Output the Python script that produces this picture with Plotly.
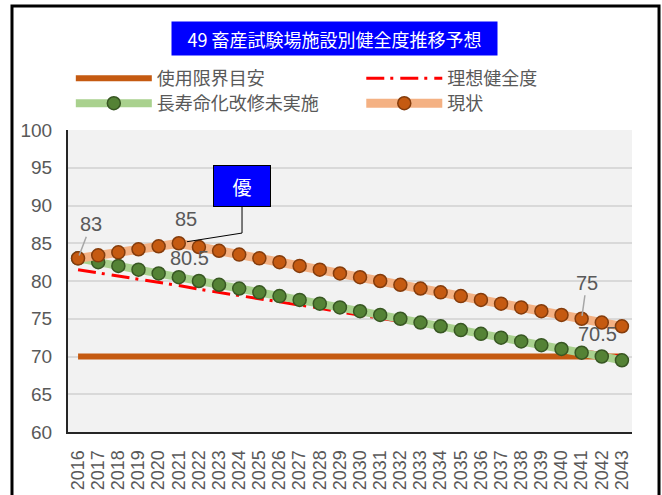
import plotly.graph_objects as go

# Fiscal years on the horizontal axis
years = [2016, 2017, 2018, 2019, 2020, 2021, 2022, 2023, 2024, 2025,
         2026, 2027, 2028, 2029, 2030, 2031, 2032, 2033, 2034, 2035,
         2036, 2037, 2038, 2039, 2040, 2041, 2042, 2043]

# Health score series
limit_line = [70, 70, 70, 70, 70, 70, 70, 70, 70, 70,
              70, 70, 70, 70, 70, 70, 70, 70, 70, 70,
              70, 70, 70, 70, 70, 70, 70, 70]
ideal = [81.5, 81.1, 80.6, 80.2, 79.8, 79.4, 78.9, 78.5, 78.1, 77.7,
         77.2, 76.8, 76.4, 75.9, 75.5, 75.1, 74.7, 74.2, 73.8, 73.4,
         73.0, 72.5, 72.1, 71.7, 71.2, 70.8, 70.4, 70.0]
no_renewal = [83, 82.5, 82, 81.5, 81, 80.5, 80, 79.5, 79, 78.5,
              78, 77.5, 77, 76.5, 76, 75.5, 75, 74.5, 74, 73.5,
              73, 72.5, 72, 71.5, 71, 70.5, 70, 69.5]
current = [83, 83.4, 83.8, 84.2, 84.6, 85, 84.5, 84, 83.5, 83,
           82.5, 82, 81.5, 81, 80.5, 80, 79.5, 79, 78.5, 78,
           77.5, 77, 76.5, 76, 75.5, 75, 74.5, 74]

series_names = ["使用限界目安", "理想健全度", "長寿命化改修未実施", "現状"]
title_text = "49 畜産試験場施設別健全度推移予想"
badge_text = "優"
y_ticks = [60, 65, 70, 75, 80, 85, 90, 95, 100]

NUM_FONT = "Liberation Sans Narrow, Arial Narrow, Liberation Sans, Arial"
JP_FONT = "Noto Sans CJK JP, Noto Sans, sans-serif"
GREY_TXT = "#595959"

fig = go.Figure()

# One legend box per entry so the 2x2 grid can be placed exactly
fig.add_trace(go.Scatter(
    x=years, y=limit_line, mode="lines", name=series_names[0], legend="legend",
    line=dict(color="#C55A11", width=6)))

fig.add_trace(go.Scatter(
    x=years, y=ideal, mode="lines", name=series_names[1], legend="legend2",
    line=dict(color="#FF0000", width=3, dash="18px,6px,3px,7px")))

fig.add_trace(go.Scatter(
    x=years, y=no_renewal, mode="lines+markers", name=series_names[2], legend="legend3",
    line=dict(color="#A9D18E", width=8),
    marker=dict(size=13, color="#548235", line=dict(color="#385723", width=1.5))))

fig.add_trace(go.Scatter(
    x=years, y=current, mode="lines+markers", name=series_names[3], legend="legend4",
    line=dict(color="#F4B183", width=9),
    marker=dict(size=13, color="#C55A11", line=dict(color="#843C0C", width=1.5))))


def value_label(x, y, text, dx, dy, leader=False):
    """Data label placed at a pixel offset from its point."""
    if leader:
        return dict(x=x, y=y, xref="x", yref="y", text=text, showarrow=True,
                    arrowhead=0, arrowwidth=1.5, arrowcolor="#A6A6A6",
                    ax=dx, ay=dy, standoff=3,
                    font=dict(family=NUM_FONT, size=20, color=GREY_TXT))
    return dict(x=x, y=y, xref="x", yref="y", text=text, showarrow=False,
                xshift=dx, yshift=-dy,
                font=dict(family=NUM_FONT, size=20, color=GREY_TXT))


i16 = years.index(2016)
i21 = years.index(2021)
i41 = years.index(2041)

annotations = [
    # Title box
    dict(x=0.4725, y=1.303, xref="paper", yref="paper", xanchor="center",
         yanchor="middle", text=title_text,
         showarrow=False, bgcolor="#0000FF", width=321, height=29, borderpad=2,
         font=dict(family=JP_FONT, size=18, color="#FFFFFF")),
    # Badge box
    dict(x=2024.14, y=92.6, xref="x", yref="y", xanchor="center", yanchor="middle",
         text=badge_text,
         showarrow=False, bgcolor="#0000FF", bordercolor="#000000", borderwidth=1,
         width=56, height=40, borderpad=0,
         font=dict(family=JP_FONT, size=19, color="#FFFFFF")),
    value_label(years[i16], current[i16], "83", 13, -34, leader=True),
    value_label(years[i21], current[i21], "85", 7, -24),
    value_label(years[i21], no_renewal[i21], "80.5", 11, -19),
    value_label(years[i41], current[i41], "75", 5, -36, leader=True),
    value_label(years[i41], no_renewal[i41], "70.5", 16, -19),
]

shapes = [
    # Outer chart frame
    dict(type="rect", xref="paper", yref="paper",
         x0=-0.0993, x1=1.0479, y0=-0.35, y1=1.4106,
         line=dict(color="#000000", width=3), fillcolor="rgba(0,0,0,0)"),
    # Elbow connector from the badge to the 2021 peak
    dict(type="path", xref="x", yref="y",
         path="M 2024.14 89.8 L 2024.14 86.35 L 2021.4 85.2",
         line=dict(color="#000000", width=1)),
]

legend_common = dict(orientation="h", xanchor="left", yanchor="top", itemwidth=76,
                     font=dict(family=JP_FONT, size=18, color=GREY_TXT),
                     bgcolor="rgba(0,0,0,0)")
col1_x, col2_x = 0.005, 0.520
row1_y, row2_y = 1.232, 1.149

fig.update_layout(
    width=662, height=495,
    margin=dict(l=68, r=30, t=130, b=63, autoexpand=False),
    paper_bgcolor="#FFFFFF",
    plot_bgcolor="#F2F2F2",
    showlegend=True,
    legend=dict(x=col1_x, y=row1_y, **legend_common),
    legend2=dict(x=col2_x, y=row1_y, **legend_common),
    legend3=dict(x=col1_x, y=row2_y, **legend_common),
    legend4=dict(x=col2_x, y=row2_y, **legend_common),
    annotations=annotations,
    shapes=shapes,
)

fig.update_xaxes(
    range=[2015.5, 2043.5], tickmode="array", tickvals=years,
    ticktext=[str(y) for y in years], tickangle=-90,
    ticks="outside", ticklen=9, tickcolor="rgba(0,0,0,0)",
    tickfont=dict(family=NUM_FONT, size=18, color=GREY_TXT),
    showgrid=False, zeroline=False, automargin=False,
    showline=True, linecolor="#262626", linewidth=2)

fig.update_yaxes(
    range=[60, 100], tickmode="array", tickvals=y_ticks,
    ticks="outside", ticklen=10, tickcolor="rgba(0,0,0,0)",
    tickfont=dict(family=NUM_FONT, size=19, color=GREY_TXT),
    showgrid=True, gridcolor="#D9D9D9", gridwidth=2, zeroline=False, automargin=False,
    showline=True, linecolor="#262626", linewidth=2)

fig.write_html("out.html")
